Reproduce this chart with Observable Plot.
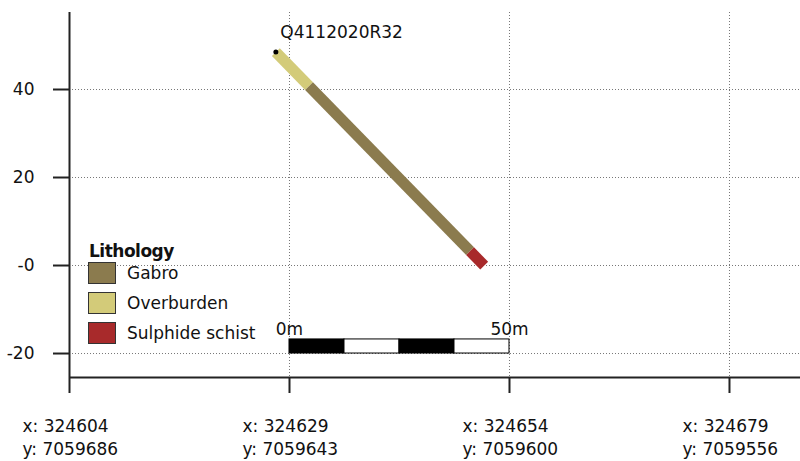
<!DOCTYPE html>
<html>
<head>
<meta charset="utf-8">
<script src="https://cdn.jsdelivr.net/npm/d3@7"></script>
<script src="https://cdn.jsdelivr.net/npm/@observablehq/plot@0.6"></script>
<style>
  body { margin: 0; background: #fff; }
  #chart { position: relative; width: 800px; height: 461px; font-family: "DejaVu Sans", sans-serif; color: #111; }
  #chart svg { display: block; }
  .legend-title { position: absolute; left: 89px; top: 241px; font-size: 17px; font-weight: bold; line-height: 20px; letter-spacing: -0.5px; }
  .legend-swatch { position: absolute; left: 88px; width: 26px; height: 20px; border: 1px solid #333; }
  .legend-label { position: absolute; left: 127px; font-size: 17px; line-height: 22px; }
</style>
</head>
<body>
<div id="chart"></div>
<script>
// Drillhole collar and orientation in the section plane
const holeId = "Q4112020R32";
const collarDist = 46.9;   // distance along section (m)
const collarElev = 48.5;   // collar elevation (m)
const holeDip = 45.7;      // degrees below horizontal

// Logged intervals (downhole depth, m)
const lithology = ["Overburden", "Gabro", "Sulphide schist"];
const fromDepth = [0, 10.8, 63.2];
const toDepth = [10.8, 63.2, 67.8];

// Legend categories and colours
const legendCategories = ["Gabro", "Overburden", "Sulphide schist"];
const legendColors = ["#8b7b4e", "#d3cb79", "#a82a2b"];

// Section axis: distance along section and the map coordinates at each tick
const sectionTicks = [0, 50, 100, 150];
const tickEasting = ["324604", "324629", "324654", "324679"];
const tickNorthing = ["7059686", "7059643", "7059600", "7059556"];

// Elevation axis
const elevTicks = [40, 20, 0, -20];
const elevLabels = ["40", "20", "-0", "-20"];

// Scale bar: 50 m split into four alternating blocks
const scaleBarStart = 50;
const scaleBarLength = 50;
const scaleBarLabels = ["0m", "50m"];

// Section window
const xDomain = [0, 166.14];
const yDomain = [-25.45, 57.5];

// Project the logged intervals onto the section
const rad = holeDip * Math.PI / 180;
const intervals = lithology.map((lith, i) => ({
  lith,
  x1: collarDist + fromDepth[i] * Math.cos(rad),
  y1: collarElev - fromDepth[i] * Math.sin(rad),
  x2: collarDist + toDepth[i] * Math.cos(rad),
  y2: collarElev - toDepth[i] * Math.sin(rad)
}));

const blocks = d3.range(4).map(i => ({
  x1: scaleBarStart + i * scaleBarLength / 4,
  x2: scaleBarStart + (i + 1) * scaleBarLength / 4,
  fill: i % 2 === 0 ? "#000" : "#fff"
}));

const axisColor = "#222";
const gridStyle = {stroke: "#777", strokeOpacity: 1, strokeWidth: 1, strokeDasharray: "1,2"};

const chart = Plot.plot({
  width: 800,
  height: 461,
  marginLeft: 69,
  marginRight: 0,
  marginTop: 12,
  marginBottom: 84,
  style: {fontFamily: "'DejaVu Sans', sans-serif", fontSize: "17px", color: "#111", background: "#fff"},
  x: {domain: xDomain},
  y: {domain: yDomain},
  color: {domain: legendCategories, range: legendColors},
  marks: [
    Plot.gridY(elevTicks, gridStyle),
    Plot.gridX(sectionTicks.filter(d => d > 0), gridStyle),
    Plot.ruleX([xDomain[0]], {stroke: axisColor, strokeWidth: 2}),
    Plot.ruleY([yDomain[0]], {stroke: axisColor, strokeWidth: 2}),
    Plot.axisY(elevTicks, {
      tickSize: 16, tickPadding: 19, stroke: axisColor, strokeWidth: 2, fontSize: 17,
      tickFormat: d => elevLabels[elevTicks.indexOf(d)]
    }),
    Plot.axisX(sectionTicks, {tickSize: 16, stroke: axisColor, strokeWidth: 2, fill: "none", tickFormat: null}),
    Plot.axisX(sectionTicks, {
      tickSize: 0, tickPadding: 37, dx: -47, textAnchor: "start", lineHeight: 1.41, fontSize: 17,
      tickFormat: d => {
        const i = sectionTicks.indexOf(d);
        return `x: ${tickEasting[i]}\ny: ${tickNorthing[i]}`;
      }
    }),
    Plot.link(intervals, {
      x1: "x1", y1: "y1", x2: "x2", y2: "y2",
      stroke: "lith", strokeWidth: 11, strokeLinecap: "butt", strokeOpacity: 1
    }),
    Plot.dot([{x: collarDist, y: collarElev}], {x: "x", y: "y", r: 2.5, fill: "#000", stroke: "none"}),
    Plot.text([holeId], {
      x: collarDist, y: collarElev, text: d => d,
      textAnchor: "start", lineAnchor: "bottom", dx: 4.5, dy: -14.5, fontSize: 17
    }),
    Plot.rect(blocks, {x1: "x1", x2: "x2", y1: -16.8, y2: -20, fill: "fill", stroke: "#000", strokeWidth: 1}),
    Plot.text(scaleBarLabels, {
      x: (d, i) => scaleBarStart + i * scaleBarLength, y: -15.7,
      text: d => d, lineAnchor: "bottom", fontSize: 17
    })
  ]
});

const root = document.getElementById("chart");
root.appendChild(chart);

// Lithology legend
const title = document.createElement("div");
title.className = "legend-title";
title.textContent = "Lithology";
root.appendChild(title);
legendCategories.forEach((name, i) => {
  const sw = document.createElement("div");
  sw.className = "legend-swatch";
  sw.style.top = (262 + 30 * i) + "px";
  sw.style.background = legendColors[i];
  root.appendChild(sw);
  const lb = document.createElement("div");
  lb.className = "legend-label";
  lb.style.top = (262 + 30 * i) + "px";
  lb.textContent = name;
  root.appendChild(lb);
});
</script>
</body>
</html>
